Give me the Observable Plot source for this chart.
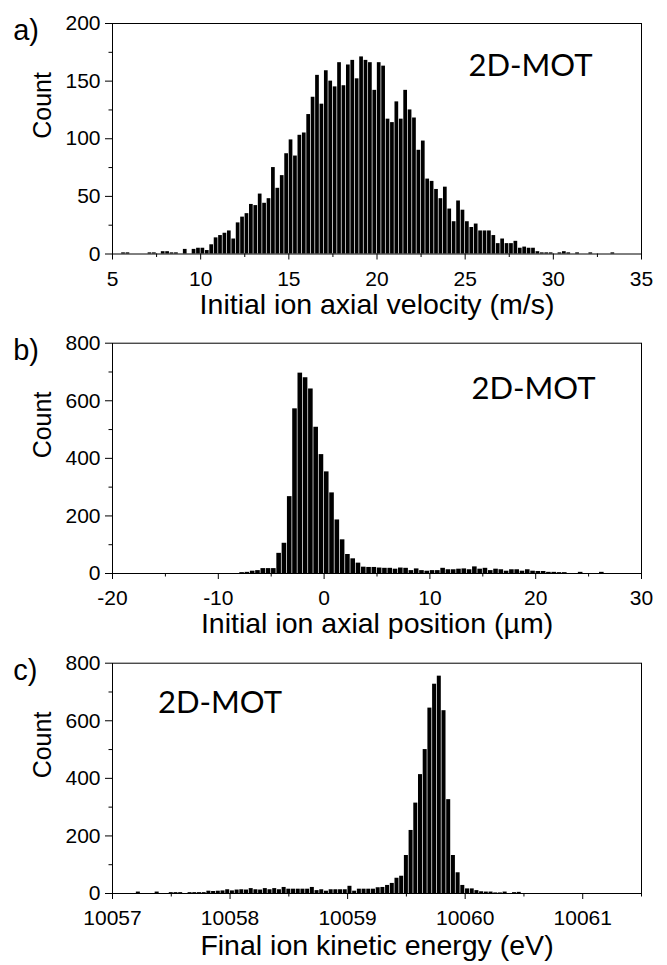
<!DOCTYPE html>
<html>
<head>
<meta charset="utf-8">
<script src="https://cdn.jsdelivr.net/npm/d3@7"></script>
<script src="https://cdn.jsdelivr.net/npm/@observablehq/plot@0.6"></script>
<style>
  html, body { margin: 0; padding: 0; background: #fff; }
  #chart { width: 667px; }
  #chart svg { display: block; }
</style>
</head>
<body>
<div id="chart"></div>
<script>
// ---------- Panel a: initial ion axial velocity (m/s), bin width 0.25 ----------
const velocityBinWidth = 0.25;
const velocityBinStart = [
  5.5, 5.75, 7.0, 7.25, 7.75, 8.0, 8.25, 8.5, 9.0, 9.5, 9.75, 10.0, 10.25,
  10.5, 10.75, 11.0, 11.25, 11.5, 11.75, 12.0, 12.25, 12.5, 12.75, 13.0, 13.25, 13.5, 13.75,
  14.0, 14.25, 14.5, 14.75, 15.0, 15.25, 15.5, 15.75, 16.0, 16.25, 16.5, 16.75,
  17.0, 17.25, 17.5, 17.75, 18.0, 18.25, 18.5, 18.75, 19.0, 19.25, 19.5, 19.75,
  20.0, 20.25, 20.5, 20.75, 21.0, 21.25, 21.5, 21.75, 22.0, 22.25, 22.5, 22.75,
  23.0, 23.25, 23.5, 23.75, 24.0, 24.25, 24.5, 24.75, 25.0, 25.25, 25.5, 25.75,
  26.0, 26.25, 26.5, 26.75, 27.0, 27.25, 27.5, 27.75, 28.0, 28.25, 28.5, 28.75,
  29.0, 29.25, 29.5, 29.75, 30.25, 30.5, 30.75, 31.25, 32.0, 33.25
];
const velocityCount = [
  1, 1, 1, 1, 2, 2, 1, 1, 4, 4, 5, 5, 3,
  8, 14, 16, 18, 20, 13, 27, 32, 35, 43, 42, 52, 44, 48,
  75, 57, 68, 87, 99, 85, 103, 105, 121, 136, 155, 130,
  159, 150, 145, 166, 146, 164, 168, 152, 171, 168, 166, 142,
  166, 163, 117, 114, 132, 117, 142, 125, 118, 90, 98, 65,
  63, 56, 48, 58, 39, 28, 46, 38, 28, 23, 26, 20,
  20, 20, 16, 9, 13, 9, 9, 11, 5, 6, 5, 5,
  2, 1, 1, 1, 1, 2, 1, 1, 1, 1
];
const velocityXTicks = [5, 10, 15, 20, 25, 30, 35];
const velocityXMinor = [7.5, 12.5, 17.5, 22.5, 27.5, 32.5];
const velocityYTicks = [0, 50, 100, 150, 200];
const velocityYMinor = [25, 75, 125, 175];

// ---------- Panel b: initial ion axial position (µm), bin width 0.5 ----------
const positionBinWidth = 0.5;
const positionBinStart = [
  -8, -7.5, -7, -6.5, -6, -5.5, -5, -4.5, -4, -3.5, -3, -2.5, -2, -1.5, -1, -0.5,
  0, 0.5, 1, 1.5, 2, 2.5, 3, 3.5, 4, 4.5, 5, 5.5, 6, 6.5, 7, 7.5, 8, 8.5, 9, 9.5,
  10, 10.5, 11, 11.5, 12, 12.5, 13, 13.5, 14, 14.5, 15, 15.5, 16, 16.5, 17, 17.5,
  18, 18.5, 19, 19.5, 20, 20.5, 21, 21.5, 22, 22.5, 24, 26
];
const positionCount = [
  3, 4, 8, 10, 17, 17, 17, 70, 105, 267, 572, 696, 680, 641, 508, 413,
  353, 280, 186, 117, 66, 51, 36, 22, 21, 21, 19, 18, 18, 15, 19, 18, 10, 16, 10, 8,
  10, 10, 18, 13, 13, 15, 16, 13, 23, 15, 18, 10, 15, 13, 8, 13,
  13, 8, 13, 8, 7, 7, 4, 4, 3, 3, 4, 4
];
const positionXTicks = [-20, -10, 0, 10, 20, 30];
const positionXMinor = [-15, -5, 5, 15, 25];
const positionYTicks = [0, 200, 400, 600, 800];
const positionYMinor = [100, 300, 500, 700];

// ---------- Panel c: final ion kinetic energy (eV), bin width 0.04 ----------
const energyBinWidth = 0.04;
const energyBinStart = [
  10057.20, 10057.36, 10057.48, 10057.52, 10057.56, 10057.64, 10057.68, 10057.72, 10057.76,
  10057.80, 10057.84, 10057.88, 10057.92, 10057.96, 10058.00, 10058.04, 10058.08, 10058.12,
  10058.16, 10058.20, 10058.24, 10058.28, 10058.32, 10058.36, 10058.40, 10058.44, 10058.48,
  10058.52, 10058.56, 10058.60, 10058.64, 10058.68, 10058.72, 10058.76, 10058.80, 10058.84,
  10058.88, 10058.92, 10058.96, 10059.00, 10059.04, 10059.08, 10059.12, 10059.16, 10059.20,
  10059.24, 10059.28, 10059.32, 10059.36, 10059.40, 10059.44, 10059.48, 10059.52, 10059.56,
  10059.60, 10059.64, 10059.68, 10059.72, 10059.76, 10059.80, 10059.84, 10059.88, 10059.92,
  10059.96, 10060.00, 10060.04, 10060.08, 10060.12, 10060.16, 10060.20, 10060.24, 10060.28,
  10060.32, 10060.40, 10060.44
];
const energyCount = [
  5, 5, 3, 3, 3, 3, 3, 3, 3,
  8, 7, 8, 9, 13, 9, 12, 13, 12,
  17, 13, 12, 17, 13, 17, 13, 21, 15,
  15, 15, 15, 15, 21, 10, 13, 8, 13,
  13, 13, 13, 25, 8, 15, 15, 15, 15,
  20, 21, 28, 35, 53, 60, 132, 219, 314,
  413, 500, 644, 727, 755, 635, 326, 132, 72,
  28, 16, 16, 10, 6, 5, 5, 2, 2,
  5, 3, 4
];
const energyXTicks = [10057, 10058, 10059, 10060, 10061];
const energyXMinor = [10057.5, 10058.5, 10059.5, 10060.5, 10061.5];
const energyYTicks = [0, 200, 400, 600, 800];
const energyYMinor = [100, 300, 500, 700];

const tags = ["a)", "b)", "c)"];
const xTitles = [
  "Initial ion axial velocity (m/s)",
  "Initial ion axial position (\u00b5m)",
  "Final ion kinetic energy (eV)"
];
const yTitle = "Count";
const annotation = "2D-MOT";

const FONT = "'Liberation Sans', Arial, Helvetica, sans-serif";

function panel(cfg) {
  const data = cfg.starts.map((s, i) => ({x1: s, x2: s + cfg.binWidth, y: cfg.counts[i]}));
  const fmt = d => String(d);
  return Plot.plot({
    width: 667,
    height: cfg.height,
    marginLeft: 112,
    marginRight: 26,
    marginTop: cfg.marginTop,
    marginBottom: cfg.marginBottom,
    style: {fontFamily: FONT, fontSize: "21px", color: "#000", background: "#fff", overflow: "visible"},
    x: {domain: cfg.xDomain},
    y: {domain: cfg.yDomain},
    marks: [
      Plot.rectY(data, {x1: "x1", x2: "x2", y: "y", fill: "#000", insetLeft: 0.35, insetRight: 0.35}),
      Plot.frame({stroke: "#000", strokeWidth: 1}),
      Plot.axisX(cfg.xTicks, {tickSize: 6, tickPadding: 11, tickFormat: fmt, label: null, fontSize: 21}),
      Plot.axisX(cfg.xMinor, {tickSize: 3.5, tickFormat: () => "", label: null}),
      Plot.axisY(cfg.yTicks, {tickSize: 7, tickPadding: 5, tickFormat: fmt, label: null, fontSize: 21}),
      Plot.axisY(cfg.yMinor, {tickSize: 3.5, tickFormat: () => "", label: null}),
      Plot.text([cfg.xTitle], {text: d => d, frameAnchor: "bottom", dy: cfg.titleDy, fontSize: 28.5, lineAnchor: "middle"}),
      Plot.text([yTitle], {text: d => d, frameAnchor: "left", dx: -70, rotate: -90, fontSize: 25, lineAnchor: "middle"}),
      Plot.text([cfg.tag], {text: d => d, frameAnchor: "top-left", textAnchor: "start", dx: -99.3, dy: 7.7, fontSize: 29, lineAnchor: "middle"}),
      Plot.text([annotation], {text: d => d, frameAnchor: cfg.motAnchor, textAnchor: "middle", dx: cfg.motDx, dy: cfg.motDy, fontSize: 31, fontFamily: "Lato, 'Open Sans', sans-serif", lineAnchor: "middle"})
    ]
  });
}

const chart = document.getElementById("chart");
chart.append(panel({
  starts: velocityBinStart, counts: velocityCount, binWidth: velocityBinWidth,
  xDomain: [5, 35], yDomain: [0, 200],
  xTicks: velocityXTicks, xMinor: velocityXMinor, yTicks: velocityYTicks, yMinor: velocityYMinor,
  xTitle: xTitles[0], tag: tags[0],
  height: 320, marginTop: 23, marginBottom: 66.5, titleDy: 50.5,
  motAnchor: "top-right", motDx: -111, motDy: 43
}));
chart.append(panel({
  starts: positionBinStart, counts: positionCount, binWidth: positionBinWidth,
  xDomain: [-20, 30], yDomain: [0, 800],
  xTicks: positionXTicks, xMinor: positionXMinor, yTicks: positionYTicks, yMinor: positionYMinor,
  xTitle: xTitles[1], tag: tags[1],
  height: 320, marginTop: 22.7, marginBottom: 67, titleDy: 50.5,
  motAnchor: "top-right", motDx: -108, motDy: 46
}));
chart.append(panel({
  starts: energyBinStart, counts: energyCount, binWidth: energyBinWidth,
  xDomain: [10057, 10061.5], yDomain: [0, 800],
  xTicks: energyXTicks, xMinor: energyXMinor, yTicks: energyYTicks, yMinor: energyYMinor,
  xTitle: xTitles[2], tag: tags[2],
  height: 325, marginTop: 22.7, marginBottom: 72, titleDy: 52,
  motAnchor: "top-left", motDx: 107.5, motDy: 40
}));
</script>
</body>
</html>
